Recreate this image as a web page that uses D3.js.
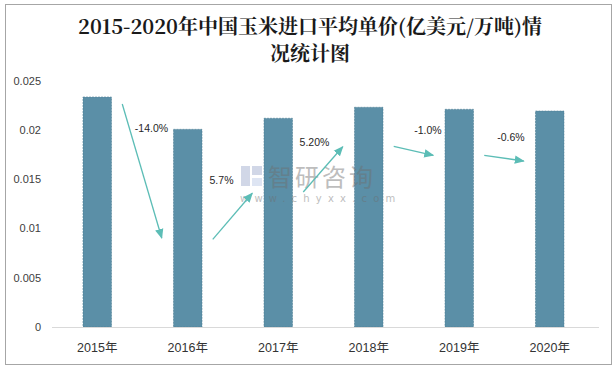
<!DOCTYPE html>
<html>
<head>
<meta charset="utf-8">
<script src="https://cdn.jsdelivr.net/npm/d3@7"></script>
<style>
  body { margin: 0; background: #fff; }
  svg { display: block; }
</style>
</head>
<body>
<div id="chart"></div>
<script>
var years = ["2015年", "2016年", "2017年", "2018年", "2019年", "2020年"];
var prices = [0.02337, 0.02009, 0.02121, 0.02233, 0.02212, 0.02195];
var growth = ["-14.0%", "5.7%", "5.20%", "-1.0%", "-0.6%"];
var yTicks = [0, 0.005, 0.01, 0.015, 0.02, 0.025];
var yTickLabels = ["0", "0.005", "0.01", "0.015", "0.02", "0.025"];

var width = 616;
var height = 370;
var margin = {top: 81, right: 21, bottom: 43, left: 52};

// arrow anchors (in value units), as placed by hand in the original
var arrowFrom = [0.02266, 0.00891, 0.01372, 0.01836, 0.01745];
var arrowTo = [0.00904, 0.01359, 0.01832, 0.01745, 0.01687];
var labelAt = [0.02022, 0.01487, 0.0188, 0.02002, 0.01928];
var labelDx = [9, -11.5, -9, 14, 6.5];

var svg = d3.select("#chart")
	.append("svg")
		.attr("width", width)
		.attr("height", height);

svg.append("rect")
	.attr("x", 5.5).attr("y", 4.5)
	.attr("width", 606).attr("height", 360)
	.attr("fill", "#fff")
	.attr("stroke", "#a6a6a6")
	.attr("stroke-width", 1);

var x = d3.scaleBand()
	.domain(years)
	.range([margin.left, width - margin.right])
	.paddingInner(0.685)
	.paddingOuter(0.3425);

var y = d3.scaleLinear()
	.domain([0, 0.025])
	.range([height - margin.bottom, margin.top]);

// title
var title = svg.append("text")
	.attr("text-anchor", "middle")
	.attr("font-family", "'Noto Serif CJK SC', 'Noto Sans CJK SC', serif")
	.attr("font-weight", "bold")
	.attr("font-size", 20)
	.attr("fill", "#1a1a1a");
title.append("tspan").attr("x", 310).attr("y", 34).text("2015-2020年中国玉米进口平均单价(亿美元/万吨)情");
title.append("tspan").attr("x", 310).attr("y", 61).text("况统计图");

// y axis labels
svg.append("g")
	.selectAll("text")
	.data(yTicks)
	.enter()
	.append("text")
		.attr("x", 41)
		.attr("y", function(d) { return y(d); })
		.attr("dy", "0.35em")
		.attr("text-anchor", "end")
		.attr("font-family", "'Liberation Sans', Arial, sans-serif")
		.attr("font-size", 11)
		.attr("fill", "#404040")
		.text(function(d, i) { return yTickLabels[i]; });

// bars
svg.append("g")
	.selectAll("rect")
	.data(prices)
	.enter()
	.append("rect")
		.attr("x", function(d, i) { return x(years[i]); })
		.attr("y", function(d) { return y(d); })
		.attr("width", x.bandwidth())
		.attr("height", function(d) { return y(0) - y(d); })
		.attr("fill", "#5b8fa7")
		.attr("stroke", "#4d7d94")
		.attr("stroke-width", 0.6)
		.attr("stroke-dasharray", "2,1");

// watermark (sits over the bars)
var wm = svg.append("g").attr("opacity", 0.45);
wm.append("rect").attr("x", 241).attr("y", 166).attr("width", 9).attr("height", 20).attr("fill", "#9aa8cc");
wm.append("rect").attr("x", 252).attr("y", 166).attr("width", 10).attr("height", 9).attr("fill", "#9aa8cc");
wm.append("rect").attr("x", 252).attr("y", 178).attr("width", 10).attr("height", 8).attr("fill", "#b8c6e6");
wm.append("text")
	.attr("x", 268).attr("y", 186)
	.attr("font-family", "'Noto Sans CJK SC', sans-serif")
	.attr("font-size", 24)
	.attr("fill", "#6e6e6e")
	.attr("letter-spacing", 3)
	.text("智研咨询");
wm.append("text")
	.attr("x", 240).attr("y", 202)
	.attr("font-family", "'DejaVu Sans', sans-serif")
	.attr("font-size", 10)
	.attr("fill", "#6e6e6e")
	.attr("letter-spacing", 6.2)
	.text("www.chyxx.com");

// x axis
svg.append("line")
	.attr("x1", x.range()[0]).attr("x2", x.range()[1] + 4)
	.attr("y1", y(0) + 0.5).attr("y2", y(0) + 0.5)
	.attr("stroke", "#d9d9d9");

svg.append("g")
	.selectAll("text")
	.data(years)
	.enter()
	.append("text")
		.attr("x", function(d) { return x(d) + x.bandwidth() / 2; })
		.attr("y", 352)
		.attr("text-anchor", "middle")
		.attr("font-family", "'Liberation Sans', 'Noto Sans CJK SC', sans-serif")
		.attr("font-size", 12.5)
		.attr("fill", "#333")
		.text(function(d) { return d; });

// growth arrows
svg.append("defs").append("marker")
	.attr("id", "head")
	.attr("viewBox", "0 0 10 10")
	.attr("refX", 9).attr("refY", 5)
	.attr("markerWidth", 10).attr("markerHeight", 10)
	.attr("markerUnits", "userSpaceOnUse")
	.attr("orient", "auto")
	.append("path")
		.attr("d", "M0,0.8 L10,5 L0,9.2 Z")
		.attr("fill", "#5cbdb6");

var cx = function(i) { return x(years[i]) + x.bandwidth() / 2; };

svg.append("g")
	.selectAll("line")
	.data(growth)
	.enter()
	.append("line")
		.attr("x1", function(d, i) { return cx(i) + 25; })
		.attr("y1", function(d, i) { return y(arrowFrom[i]); })
		.attr("x2", function(d, i) { return cx(i + 1) - 26; })
		.attr("y2", function(d, i) { return y(arrowTo[i]); })
		.attr("stroke", "#5cbdb6")
		.attr("stroke-width", 1.3)
		.attr("marker-end", "url(#head)");

svg.append("g")
	.selectAll("text")
	.data(growth)
	.enter()
	.append("text")
		.attr("x", function(d, i) { return (cx(i) + cx(i + 1)) / 2 + labelDx[i]; })
		.attr("y", function(d, i) { return y(labelAt[i]); })
		.attr("dy", "0.35em")
		.attr("text-anchor", "middle")
		.attr("font-family", "'Liberation Sans', Arial, sans-serif")
		.attr("font-size", 10.5)
		.attr("fill", "#262626")
		.text(function(d) { return d; });
</script>
</body>
</html>
